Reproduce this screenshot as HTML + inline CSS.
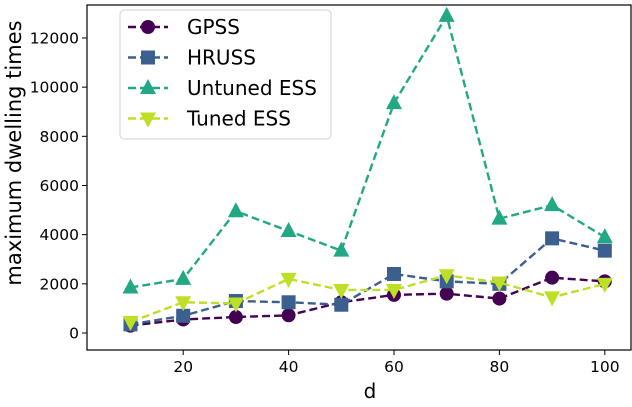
<!DOCTYPE html>
<html><head><meta charset="utf-8"><style>
body{margin:0;background:#fff}
svg{font-family:"DejaVu Sans","Liberation Sans",sans-serif}
</style></head><body>
<svg id="c" width="632" height="402"></svg>
<script>
const xs=[10,20,30,40,50,60,70,80,90,100];
const gpss=[300,550,650,720,1250,1550,1600,1400,2250,2100];
const hruss=[350,700,1300,1250,1150,2400,2100,2000,3850,3350];
const untuned=[1850,2200,4950,4150,3350,9350,12900,4650,5200,3900];
const tuned=[450,1250,1200,2200,1750,1750,2350,2050,1450,2000];
const xTicks=[20,40,60,80,100];
const yTicks=[0,2000,4000,6000,8000,10000,12000];
const X=v=>130.5+(v-10)*5.27;
const Y=v=>333-v*(49.17/2000);
const svg=document.getElementById('c');
const NS='http://www.w3.org/2000/svg';
function mk(t,a,p){const e=document.createElementNS(NS,t);for(const k in a)e.setAttribute(k,a[k]);(p||svg).appendChild(e);return e;}
const L=87,R=631,T=5,B=350;
xTicks.forEach(v=>{const g=mk('g',{});


mk('line',{x1:X(v),x2:X(v),y1:B,y2:B+5,stroke:'#000','stroke-width':1},g);
const t=mk('text',{x:X(v),y:B+22,'text-anchor':'middle','font-size':15.5},g);t.textContent=v;});
yTicks.forEach(v=>{const g=mk('g',{});


mk('line',{x1:L-5,x2:L,y1:Y(v),y2:Y(v),stroke:'#000','stroke-width':1},g);
const t=mk('text',{x:L-8,y:Y(v)+5.5,'text-anchor':'end','font-size':15.5},g);t.textContent=v;});
const series=[
{n:'GPSS',d:gpss,c:'#440154',m:'circle'},
{n:'HRUSS',d:hruss,c:'#3b5f8e',m:'square'},
{n:'Untuned ESS',d:untuned,c:'#22a884',m:'tri'},
{n:'Tuned ESS',d:tuned,c:'#bddf26',m:'tridown'}];
function marker(m,x,y,c,p){
if(m==='circle')return mk('circle',{cx:x,cy:y,r:7,fill:c},p);
if(m==='square')return mk('rect',{x:x-7,y:y-7,width:14,height:14,fill:c},p);
if(m==='tri')return mk('polygon',{points:`${x},${y-9} ${x-8},${y+6} ${x+8},${y+6}`,fill:c},p);
return mk('polygon',{points:`${x},${y+9} ${x-8},${y-6} ${x+8},${y-6}`,fill:c},p);}
series.forEach(s=>{const g=mk('g',{});


mk('polyline',{points:xs.map((x,i)=>X(x)+','+Y(s.d[i])).join(' '),fill:'none',stroke:s.c,'stroke-width':2.4,'stroke-dasharray':'8,4'},g);
xs.forEach((x,i)=>marker(s.m,X(x),Y(s.d[i]),s.c,g));});
const ax=mk('rect',{x:L,y:T,width:R-L,height:B-T,fill:'none',stroke:'#000','stroke-width':1.2});


const lg=mk('g',{});


mk('rect',{x:120,y:10,width:211,height:129,rx:4,fill:'#fff',stroke:'#ccc','stroke-opacity':0.9},lg);
series.forEach((s,i)=>{const y=27+i*30.5;
const e=mk('g',{},lg);


mk('line',{x1:128,x2:168,y1:y,y2:y,stroke:s.c,'stroke-width':2.4,'stroke-dasharray':'8,4'},e);
marker(s.m,148,y,s.c,e);
const t=mk('text',{x:187,y:y+7,'font-size':20},e);t.textContent=s.n;});
const xl=mk('text',{x:370,y:398,'text-anchor':'middle','font-size':20});xl.textContent='d';


const yl=mk('text',{x:0,y:0,'text-anchor':'middle','font-size':21,transform:'translate(21,153) rotate(-90)'});yl.textContent='maximum dwelling times';


</script>
</body></html>
